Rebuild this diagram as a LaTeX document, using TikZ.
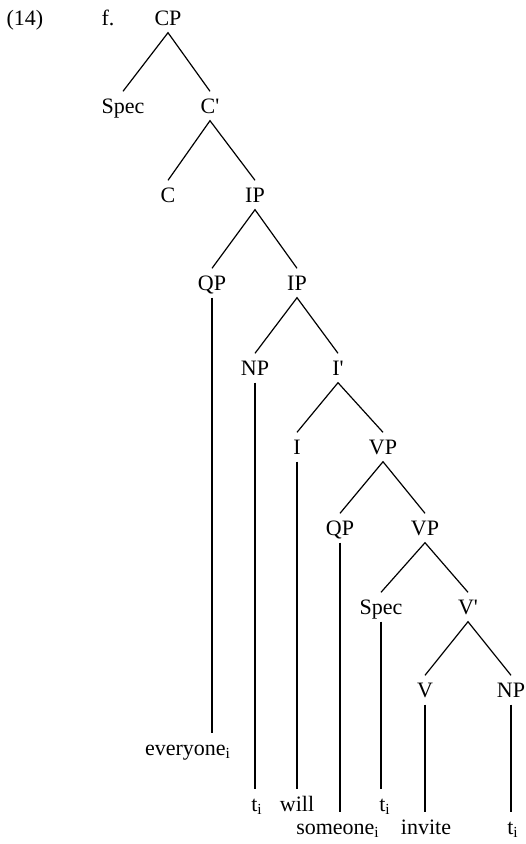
\documentclass[tikz,border=0pt]{standalone}
\usepackage{fontspec}
\setmainfont{Liberation Serif}
\usepackage{tikz}
\newcommand{\barlevel}{\textquotesingle}

\begin{document}
\begin{tikzpicture}[x=0.5pt, y=-0.5pt,
    cat/.style={inner xsep=1pt, inner ysep=3.5pt, text height=7.3pt, text depth=0pt, font=\fontsize{11}{13}\selectfont},
    branch/.style={line width=0.6pt}]
  \useasboundingbox (0,0) rectangle (525,844);
  \node[cat] (num) at (25,18) {(14)};
  \node[cat] (ex) at (108,18) {f.};
  \node[cat] (cp) at (168,18) {CP};
  \node[cat] (spec1) at (123,106) {Spec};
  \node[cat] (cbar) at (210,106) {C\barlevel};
  \node[cat] (c) at (168,195) {C};
  \node[cat] (ip1) at (255,195) {IP};
  \node[cat] (qp1) at (212,283) {QP};
  \node[cat] (ip2) at (297,283) {IP};
  \node[cat] (np1) at (255,368) {NP};
  \node[cat] (ibar) at (338,368) {I\barlevel};
  \node[cat] (i) at (297,447) {I};
  \node[cat] (vp1) at (383,447) {VP};
  \node[cat] (qp2) at (340,528) {QP};
  \node[cat] (vp2) at (425,528) {VP};
  \node[cat] (spec2) at (381,607) {Spec};
  \node[cat] (vbar) at (468,607) {V\barlevel};
  \node[cat] (v) at (425,690) {V};
  \node[cat] (np2) at (511,690) {NP};
  \node[cat] (every) at (188,748) {everyone\textsubscript{i}};
  \node[cat] (t1) at (257,804) {t\textsubscript{i}};
  \node[cat] (will) at (297,804) {will};
  \node[cat] (some) at (338,827) {someone\textsubscript{i}};
  \node[cat] (t2) at (385,804) {t\textsubscript{i}};
  \node[cat] (invite) at (426,827) {invite};
  \node[cat] (t3) at (513,827) {t\textsubscript{i}};
  \draw[branch] (spec1.north) -- (cp.south) -- (cbar.north);
  \draw[branch] (c.north) -- (cbar.south) -- (ip1.north);
  \draw[branch] (qp1.north) -- (ip1.south) -- (ip2.north);
  \draw[branch] (np1.north) -- (ip2.south) -- (ibar.north);
  \draw[branch] (i.north) -- (ibar.south) -- (vp1.north);
  \draw[branch] (qp2.north) -- (vp1.south) -- (vp2.north);
  \draw[branch] (spec2.north) -- (vp2.south) -- (vbar.north);
  \draw[branch] (v.north) -- (vbar.south) -- (np2.north);
  \draw[branch] (qp1.south) -- (qp1.south |- every.north);
  \draw[branch] (np1.south) -- (np1.south |- t1.north);
  \draw[branch] (i.south) -- (i.south |- will.north);
  \draw[branch] (qp2.south) -- (qp2.south |- some.north);
  \draw[branch] (spec2.south) -- (spec2.south |- t2.north);
  \draw[branch] (v.south) -- (v.south |- invite.north);
  \draw[branch] (np2.south) -- (np2.south |- t3.north);
\end{tikzpicture}
\end{document}
